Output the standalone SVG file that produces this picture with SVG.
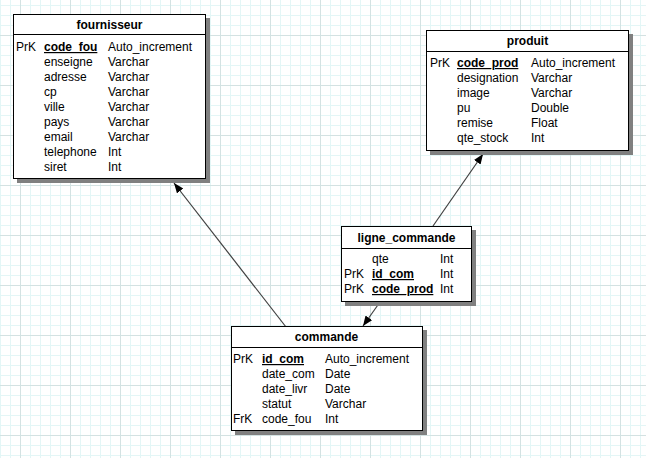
<svg xmlns="http://www.w3.org/2000/svg" width="646" height="458" viewBox="0 0 646 458">
<style>
text{font-family:"Liberation Sans",Arial,sans-serif;font-size:12px;fill:#000}
.t{font-weight:bold;text-anchor:middle}
.k{font-weight:bold;text-decoration:underline}
.box{fill:#fff;stroke:#000;stroke-width:1}
.sh{fill:#808080}
.sep{stroke:#000;stroke-width:1}
.c{stroke:#404040;stroke-width:1.2;fill:none;marker-end:url(#ah)}
</style>
<defs>
<pattern id="grid" x="20" y="35" width="50" height="50" patternUnits="userSpaceOnUse">
<path d="M10.5 0V50M20.5 0V50M30.5 0V50M40.5 0V50M0 10.5H50M0 20.5H50M0 30.5H50M0 40.5H50" stroke="#e3f6f6" stroke-width="1"/>
<path d="M0.5 0V50M0 0.5H50" stroke="#d3e2e2" stroke-width="1"/>
</pattern>
<marker id="ah" markerWidth="11" markerHeight="9" refX="10" refY="4" orient="auto" markerUnits="userSpaceOnUse">
<path d="M0,0 L10,4 L0,8 z" fill="#000"/>
</marker>
</defs>
<rect width="646" height="458" fill="#fff"/>
<rect width="646" height="458" fill="url(#grid)"/>
<g id="connectors">
<line class="c" x1="286" y1="327" x2="174" y2="183"/>
<line class="c" x1="433" y1="226" x2="483" y2="154"/>
<line class="c" x1="380" y1="302" x2="363" y2="326"/>
</g>
<g id="fournisseur">
<rect class="sh" x="17" y="18" width="193" height="165"/>
<rect class="box" x="13.5" y="14.5" width="192" height="164"/>
<line class="sep" x1="13.5" y1="34.5" x2="205.5" y2="34.5"/>
<text class="t" x="109.5" y="29">fournisseur</text>
<text x="16" y="51">PrK</text>
<text class="k" x="44" y="51">code_fou</text><text x="108" y="51">Auto_increment</text>
<text x="44" y="66">enseigne</text><text x="108" y="66">Varchar</text>
<text x="44" y="81">adresse</text><text x="108" y="81">Varchar</text>
<text x="44" y="96">cp</text><text x="108" y="96">Varchar</text>
<text x="44" y="111">ville</text><text x="108" y="111">Varchar</text>
<text x="44" y="126">pays</text><text x="108" y="126">Varchar</text>
<text x="44" y="141">email</text><text x="108" y="141">Varchar</text>
<text x="44" y="156">telephone</text><text x="108" y="156">Int</text>
<text x="44" y="171">siret</text><text x="108" y="171">Int</text>
</g>
<g id="produit">
<rect class="sh" x="430" y="34" width="203" height="121"/>
<rect class="box" x="426.5" y="30.5" width="202" height="120"/>
<line class="sep" x1="426.5" y1="51.5" x2="628.5" y2="51.5"/>
<text class="t" x="527.5" y="45">produit</text>
<text x="430" y="67">PrK</text>
<text class="k" x="457" y="67">code_prod</text><text x="531" y="67">Auto_increment</text>
<text x="457" y="82">designation</text><text x="531" y="82">Varchar</text>
<text x="457" y="97">image</text><text x="531" y="97">Varchar</text>
<text x="457" y="112">pu</text><text x="531" y="112">Double</text>
<text x="457" y="127">remise</text><text x="531" y="127">Float</text>
<text x="457" y="142">qte_stock</text><text x="531" y="142">Int</text>
</g>
<g id="ligne_commande">
<rect class="sh" x="345" y="230" width="131" height="76"/>
<rect class="box" x="341.5" y="226.5" width="130" height="75"/>
<line class="sep" x1="341.5" y1="248.5" x2="471.5" y2="248.5"/>
<text class="t" x="406.5" y="241.5">ligne_commande</text>
<text x="372" y="263">qte</text><text x="440" y="263">Int</text>
<text x="344" y="278">PrK</text>
<text class="k" x="372" y="278">id_com</text><text x="440" y="278">Int</text>
<text x="344" y="293">PrK</text>
<text class="k" x="372" y="293">code_prod</text><text x="440" y="293">Int</text>
</g>
<g id="commande">
<rect class="sh" x="235" y="330" width="192" height="105"/>
<rect class="box" x="231.5" y="326.5" width="191" height="104"/>
<line class="sep" x1="231.5" y1="347.5" x2="422.5" y2="347.5"/>
<text class="t" x="326.5" y="341">commande</text>
<text x="233" y="363">PrK</text>
<text class="k" x="262" y="363">id_com</text><text x="325" y="363">Auto_increment</text>
<text x="262" y="378">date_com</text><text x="325" y="378">Date</text>
<text x="262" y="393">date_livr</text><text x="325" y="393">Date</text>
<text x="262" y="408">statut</text><text x="325" y="408">Varchar</text>
<text x="233" y="423">FrK</text>
<text x="262" y="423">code_fou</text><text x="325" y="423">Int</text>
</g>
</svg>
